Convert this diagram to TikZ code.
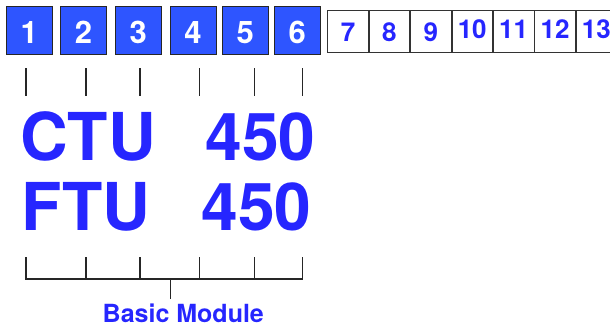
\documentclass[tikz,border=0pt]{standalone}
\usepackage{fontspec}
\setmainfont{TeX Gyre Heros}
\usetikzlibrary{positioning}
\definecolor{boxblue}{HTML}{2E55FF}
\definecolor{txtblue}{HTML}{2626FF}

\begin{document}
\begin{tikzpicture}[
  x=1pt, y=-1pt,
  font=\bfseries,
  used/.style={draw=black!85, line width=0.9pt, fill=boxblue, text=white,
               minimum width=46pt, minimum height=48pt, inner sep=0pt,
               font=\fontsize{31}{31}\bfseries\selectfont,
               text height=28pt, text depth=0pt},
  free/.style={draw=black!80, line width=0.8pt, fill=white, text=txtblue,
               minimum width=40.6pt, minimum height=42.7pt, inner sep=0pt,
               font=\fontsize{26}{26}\bfseries\selectfont,
               text height=#1, text depth=0pt},
  free/.default=20.8pt,
  big/.style={text=txtblue, font=\fontsize{66}{66}\bfseries\selectfont, inner sep=0pt},
  lab/.style={text=txtblue, font=\fontsize{25}{25}\bfseries\selectfont, inner sep=0pt},
  tick/.style={line width=1.2pt, draw=black!85},
]
\useasboundingbox (0,0) rectangle (610,329);

% ---------- occupied slots ----------
\foreach \i/\x in {1/29.3, 2/83.5, 3/138.2, 4/193, 5/245.3, 6/297.2}
  \node[used] (u\i) at (\x,30) {\i};

% ---------- free slots ----------
\node[free, anchor=west] (u7) at (327.3,31.3) {7};
\foreach \i/\h [count=\j from 7] in {8/20.8pt, 9/20.8pt, 10/14pt, 11/14pt, 12/14pt, 13/14pt}
  \node[free=\h, right=0pt of u\j] (u\i) {\i};

% ---------- slot marks ----------
\foreach \i/\x in {1/26, 2/86, 3/140, 4/199.3, 5/254.3, 6/302.7} {
  \coordinate (a\i) at (\x,68.3);
  \coordinate (b\i) at (\x,95.7);
  \draw[tick] (a\i) -- (b\i);
}

% ---------- type names ----------
\node[big, anchor=base west] (ctu)  at (20,160)    {CTU};
\node[big, anchor=base east] (c450) at (315.6,160) {450};
\node[big, anchor=base west] (ftu)  at (21.7,230)  {FTU};
\node[big, anchor=base east] (f450) at (311.6,230) {450};

% ---------- bracket ----------
\foreach \i/\x in {1/26, 2/86, 3/140, 4/199.3, 5/254.3, 6/302.7} {
  \coordinate (k\i) at (\x,257.3);
  \coordinate (m\i) at (\x,279);
}
\draw[tick] (k1) -- (m1) -- (m6) -- (k6);
\foreach \i in {2,...,5}
  \draw[tick] (k\i) -- (m\i);
\coordinate (mid) at (170.7,279);
\coordinate (midb) at (170.7,299.3);
\draw[tick] (mid) -- (midb);

\node[lab, anchor=base] (basic) at (183.3,322.7) {Basic Module};

\end{tikzpicture}
\end{document}
